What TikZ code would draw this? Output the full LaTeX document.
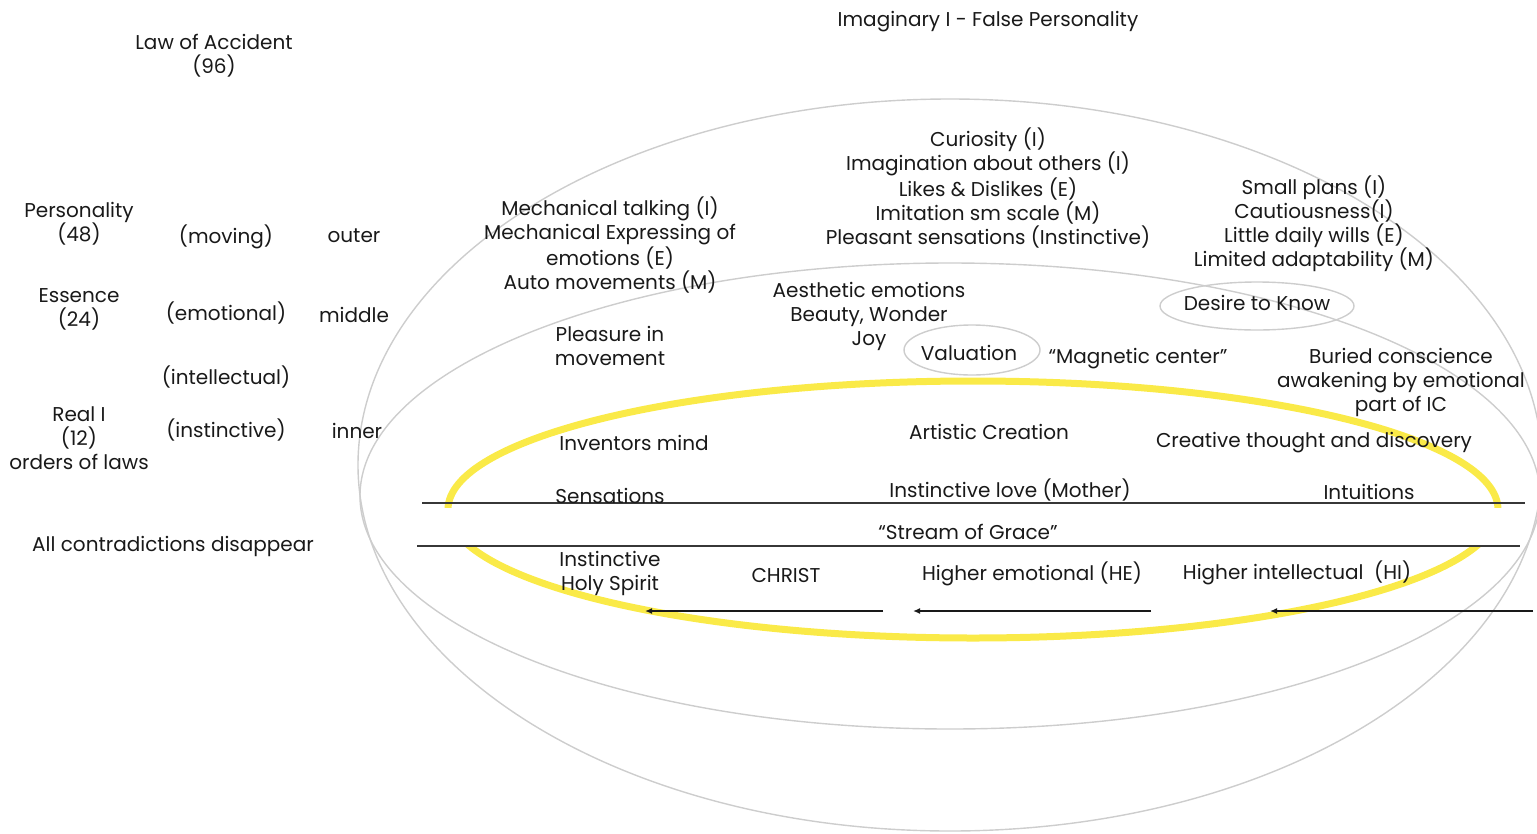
\documentclass[tikz,border=0pt]{standalone}
\usepackage{fontspec}
\setmainfont{Poppins}
\usetikzlibrary{arrows.meta}
\definecolor{ink}{RGB}{25,25,25}
\definecolor{ringgray}{RGB}{205,205,205}
\definecolor{glow}{RGB}{250,234,72}
\definecolor{bar}{RGB}{55,55,55}
\tikzset{
  lbl/.style={font=\fontsize{20}{24}\selectfont, text=ink, align=center, inner sep=0pt, yshift=-2pt},
  ring/.style={draw=ringgray, line width=1.4pt},
  band/.style={draw=bar, line width=1.6pt},
  flow/.style={draw=ink, line width=1.6pt, -{Latex[length=7pt,width=6pt]}},
  halo/.style={draw=glow, line width=7pt}
}
\begin{document}
\begin{tikzpicture}[x=1pt,y=-1pt]
\useasboundingbox (0,0) rectangle (1537,833);
% big rings
\draw[ring] (950,465) ellipse [x radius=592pt, y radius=366pt];
\draw[ring] (950,496) ellipse [x radius=590pt, y radius=233pt];
% yellow ring, hidden in the stream band
\begin{scope}
\clip (0,0) rectangle (1537,507);
\draw[halo] (973,509.5) ellipse [x radius=525pt, y radius=128.5pt];
\end{scope}
\begin{scope}
\clip (0,546) rectangle (1537,833);
\draw[halo] (973,509.5) ellipse [x radius=525pt, y radius=128.5pt];
\end{scope}
% small ellipses
\draw[ring] (972,350) ellipse [x radius=68pt, y radius=25pt];
\draw[ring] (1257,306) ellipse [x radius=97pt, y radius=24pt];
% band lines
\coordinate (t1) at (422,503); \coordinate (t2) at (1525,503);
\coordinate (b1) at (417,546); \coordinate (b2) at (1520,546);
\draw[band] (t1) -- (t2);
\draw[band] (b1) -- (b2);
% arrows
\coordinate (a1s) at (883,611); \coordinate (a1e) at (645,611);
\coordinate (a2s) at (1151,611); \coordinate (a2e) at (913,611);
\coordinate (a3s) at (1533,611); \coordinate (a3e) at (1270,611);
\draw[flow] (a1s) -- (a1e);
\draw[flow] (a2s) -- (a2e);
\draw[flow] (a3s) -- (a3e);
% texts
\node[lbl] (title) at (988,20) {Imaginary I - False Personality};
\node[lbl] (law) at (214,54) {Law of Accident\\(96)};
\node[lbl] (pers) at (79,222) {Personality\\(48)};
\node[lbl] (moving) at (226,235) {(moving)};
\node[lbl] (outer) at (354,234) {outer};
\node[lbl] (ess) at (79,307) {Essence\\(24)};
\node[lbl] (emo) at (226,311) {(emotional)};
\node[lbl] (mid) at (354,313) {middle};
\node[lbl] (intel) at (226,375) {(intellectual)};
\node[lbl] (real) at (79,436) {Real I\\(12)\\orders of laws};
\node[lbl] (inst) at (226,428) {(instinctive)};
\node[lbl] (inner) at (357,429) {inner};
\node[lbl] (contra) at (173,544) {All contradictions disappear};
\node[lbl] (mech) at (610,243) {Mechanical talking (I)\\Mechanical Expressing of\\emotions (E)\\Auto movements (M)};
\node[lbl] (curio) at (988,186) {Curiosity (I)\\Imagination about others (I)\\Likes \& Dislikes (E)\\Imitation sm scale (M)\\Pleasant sensations (Instinctive)};
\node[lbl] (small) at (1314,222) {Small plans (I)\\Cautiousness(I)\\Little daily wills (E)\\Limited adaptability (M)};
\node[lbl] (aest) at (869,314) {Aesthetic emotions\\Beauty, Wonder\\Joy};
\node[lbl] (pleas) at (610,344) {Pleasure in\\movement};
\node[lbl] (val) at (969,351) {Valuation};
\node[lbl] (desire) at (1257,301) {Desire to Know};
\node[lbl] (magn) at (1138,357) {“Magnetic center”};
\node[lbl] (buried) at (1401,380) {Buried conscience\\awakening by emotional\\part of IC};
\node[lbl] (invent) at (634,441) {Inventors mind};
\node[lbl] (art) at (989,430) {Artistic Creation};
\node[lbl] (creat) at (1314,441) {Creative thought and discovery};
\node[lbl] (sens) at (610,494) {Sensations};
\node[lbl] (love) at (1010,488) {Instinctive love (Mother)};
\node[lbl] (intu) at (1369,490) {Intuitions};
\node[lbl] (stream) at (968,530) {“Stream of Grace”};
\node[lbl] (holy) at (610,571) {Instinctive\\Holy Spirit};
\node[lbl] (christ) at (786,574) {CHRIST};
\node[lbl] (he) at (1032,572) {Higher emotional (HE)};
\node[lbl] (hi) at (1297,571) {Higher intellectual\ \ (HI)};
\end{tikzpicture}
\end{document}
